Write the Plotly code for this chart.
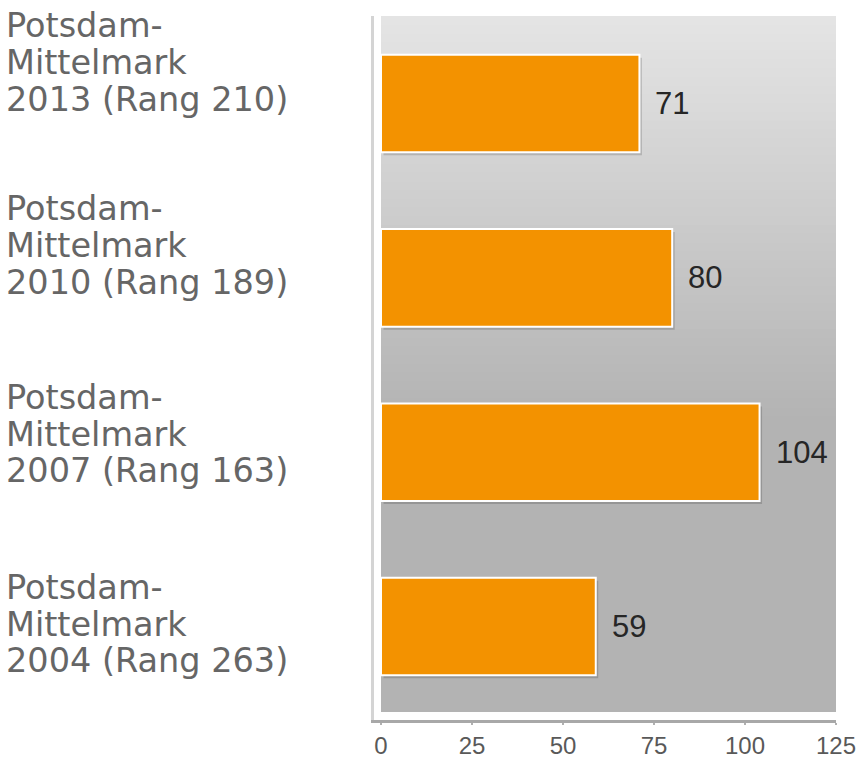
import plotly.graph_objects as go

# ---- data ----
years = ["2013", "2010", "2007", "2004"]
ranks = ["210", "189", "163", "263"]
region = ["Potsdam-", "Mittelmark"]
values = [71, 80, 104, 59]
x_ticks = [0, 25, 50, 75, 100, 125]

categories = [f"{y} (Rang {r})" for y, r in zip(years, ranks)]

# ---- style ----
W, H = 862, 760
M_L, M_R, M_T, M_B = 374, 26, 16, 40
BAR_COLOR = "#F39200"
LABEL_FONT = dict(family="DejaVu Sans", size=33.5, color="#666666")
VALUE_FONT = dict(family="Liberation Sans, Arial", size=31, color="#262626")
TICK_FONT = dict(family="Liberation Sans, Arial", size=24, color="#595959")
label_mid_shift = [41, 32.5, 18, 2.5]   # px, middle label line above bar centre
line_gap = 36.7
BAR_W = 0.56

px_per_unit = (836 - 381) / 125
px_per_cat = (H - M_T - M_B) / (3.536 + 0.502)

fig = go.Figure()
# soft drop shadow under the bars (styling)
fig.add_trace(go.Bar(
    x=values, y=categories, orientation="h", width=BAR_W,
    base=2.5 / px_per_unit,
    offset=-BAR_W / 2 + 3 / px_per_cat,
    marker=dict(color="rgba(0,0,0,0.16)", line=dict(width=0)),
    hoverinfo="skip",
))
fig.add_trace(go.Bar(
    x=values, y=categories, orientation="h", width=BAR_W,
    offset=-BAR_W / 2,
    marker=dict(color=BAR_COLOR, line=dict(color="white", width=2)),
    hoverinfo="skip",
))

# gradient plot background (styling only)
plot_h = H - M_T - M_B
y_bottom = 8 / plot_h
n = 80
top_c, bot_c = 229, 179
grad_end = 0.43   # fraction of height (from bottom) where gradient stops
for i in range(n):
    y0 = y_bottom + (1 - y_bottom) * i / n
    y1 = y_bottom + (1 - y_bottom) * (i + 1) / n
    frac = (y0 + y1) / 2
    if frac <= grad_end:
        c = bot_c
    else:
        t = (frac - grad_end) / (1 - grad_end)
        c = round(bot_c + (top_c - bot_c) * t)
    fig.add_shape(type="rect", xref="x", yref="paper", x0=0, x1=125, y0=y0,
                  y1=min(y1 + 0.002, 1),
                  fillcolor=f"rgb({c},{c},{c})", line=dict(width=0), layer="below")

plot_w = W - M_L - M_R
annotations = []
for i, cat in enumerate(categories):
    lines = [region[0], region[1], cat]
    for j, txt in enumerate(lines):
        annotations.append(dict(
            x=(4 - M_L) / plot_w, xref="paper", xanchor="left",
            y=cat, yref="y", yanchor="middle",
            yshift=label_mid_shift[i] - (j - 1) * line_gap,
            text=txt, showarrow=False, font=LABEL_FONT, align="left",
        ))
    annotations.append(dict(
        x=values[i], xref="x", y=cat, yref="y", xanchor="left", yanchor="middle",
        xshift=14, text=str(values[i]), showarrow=False, font=VALUE_FONT,
    ))

fig.update_layout(
    width=W, height=H, margin=dict(l=M_L, r=M_R, t=M_T, b=M_B, autoexpand=False),
    paper_bgcolor="white", plot_bgcolor="white",
    showlegend=False, annotations=annotations, barmode="overlay",
    xaxis=dict(range=[-(381 - M_L) / px_per_unit, 125], tickvals=x_ticks,
               ticktext=[str(v) for v in x_ticks], showgrid=False, zeroline=False,
               showline=True, linecolor="#a8a8a8", linewidth=3,
               ticks="outside", ticklen=2, tickwidth=2, tickcolor="#b0b0b0",
               tickfont=TICK_FONT, fixedrange=True, automargin=False,
               ticklabeloverflow="allow"),
    yaxis=dict(categoryorder="array", categoryarray=categories,
               range=[3.536, -0.502], showticklabels=False, showgrid=False,
               zeroline=False, showline=True, linecolor="#d4d4d4", linewidth=3,
               ticks="", fixedrange=True, automargin=False),
)

fig.write_html(
    "out.html",
    config={"displayModeBar": False, "staticPlot": True},
    post_script="document.body.style.margin='0';document.body.style.overflow='hidden';",
)
